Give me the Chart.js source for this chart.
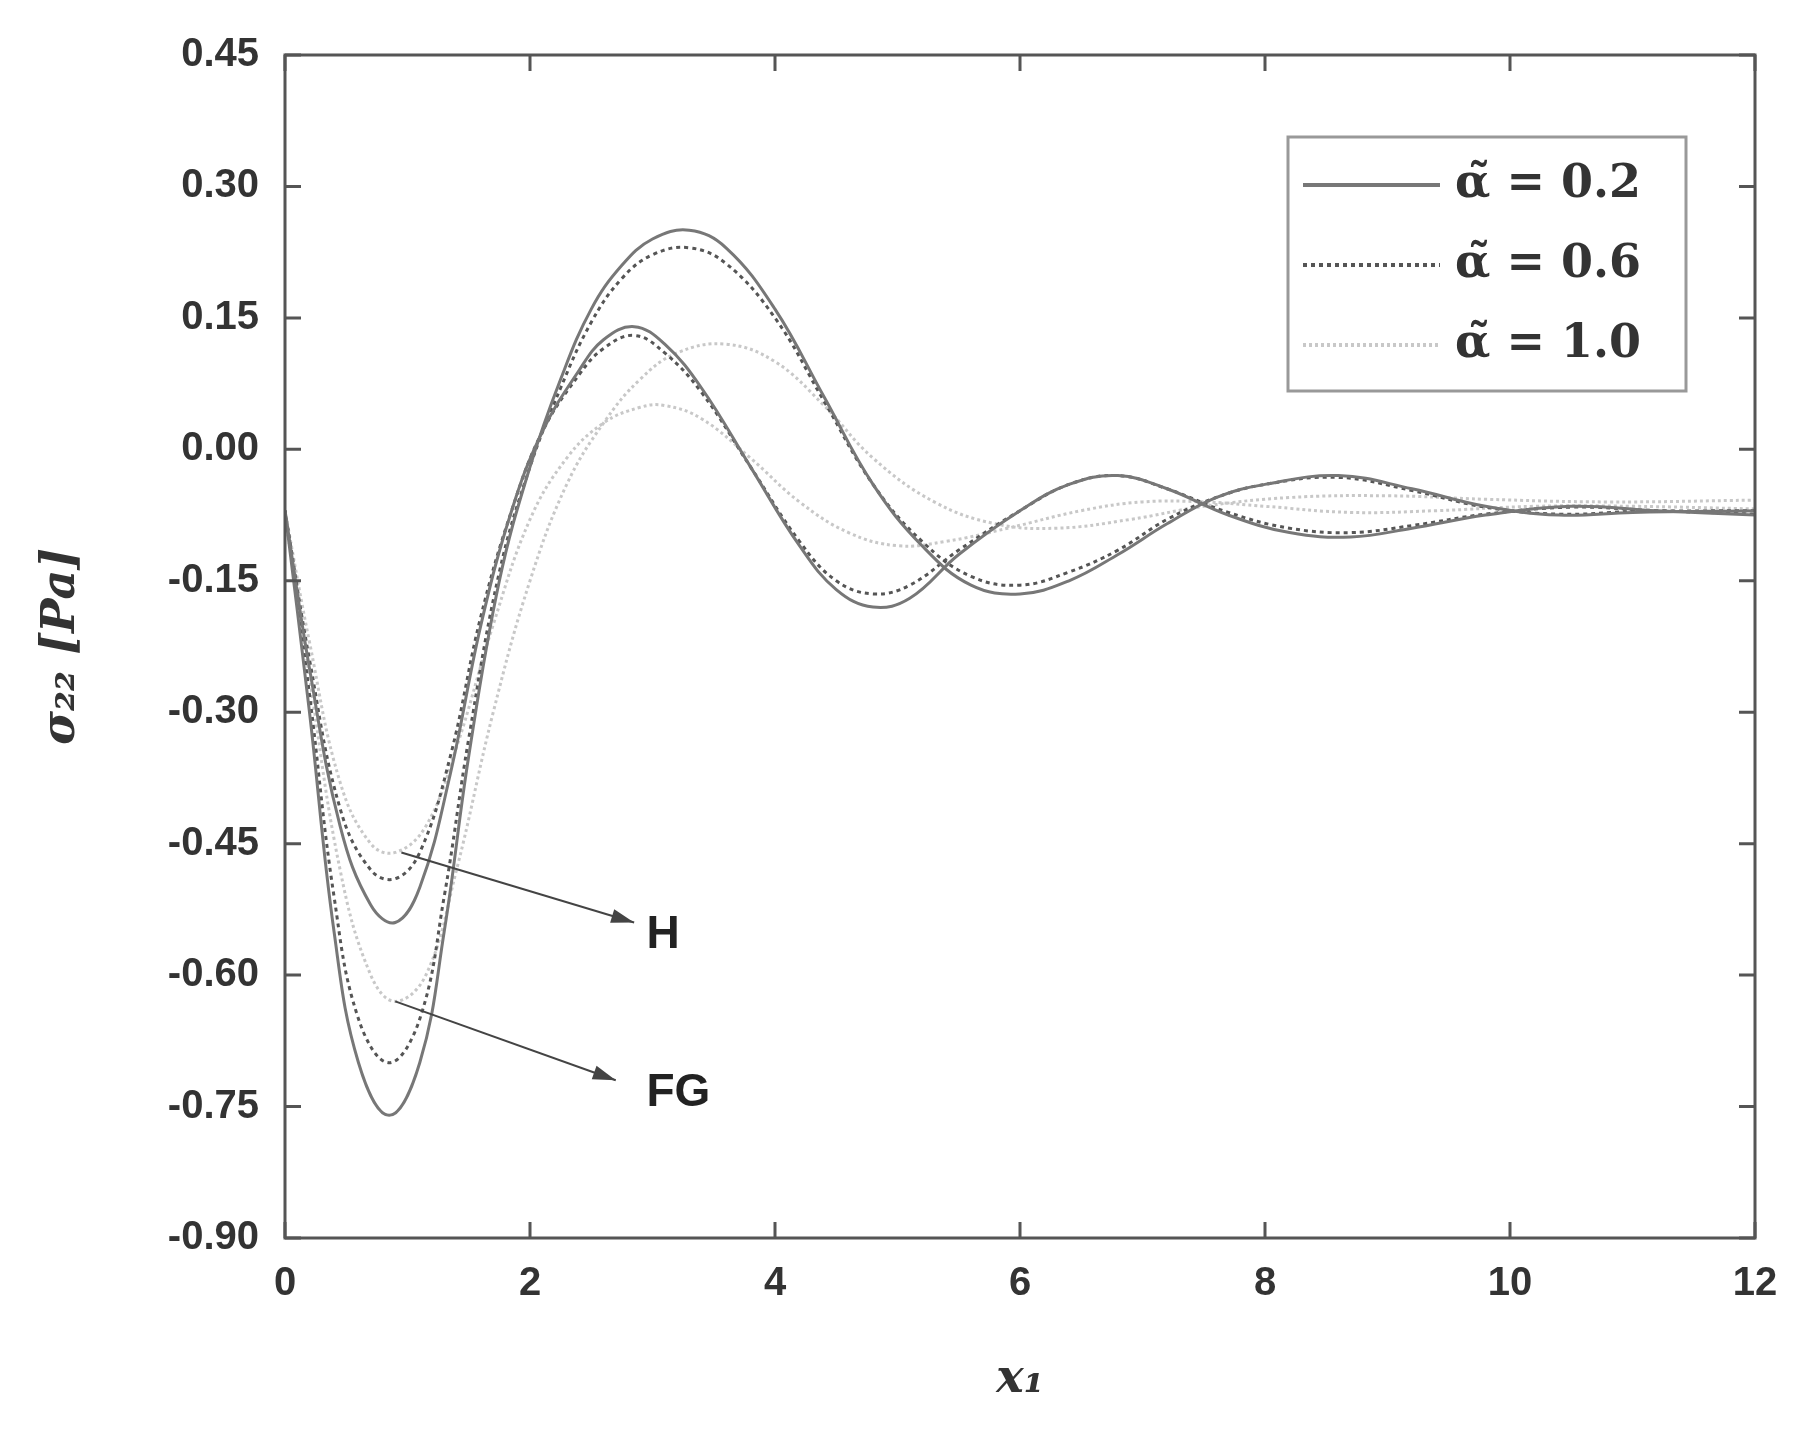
<!DOCTYPE html>
<html><head><meta charset="utf-8">
<script src="https://cdn.jsdelivr.net/npm/chart.js@4/dist/chart.umd.min.js"></script>
<style>html,body{margin:0;background:#fff}#w{width:1804px;height:1429px}</style>
</head><body><div id="w"><canvas id="c"></canvas></div>
<script>
const xTicks=[0,2,4,6,8,10,12];
const yTicks=[-0.90,-0.75,-0.60,-0.45,-0.30,-0.15,0.00,0.15,0.30,0.45];
const seriesNames=['α̃ = 0.2','α̃ = 0.6','α̃ = 1.0'];
const H02=[[0,-0.07],[0.2,-0.25],[0.45,-0.43],[0.7,-0.52],[0.9,-0.54],[1.1,-0.5],[1.35,-0.37],[1.6,-0.2],[1.85,-0.07],[2.1,0.02],[2.4,0.09],[2.6,0.125],[2.85,0.14],[3.1,0.12],[3.4,0.07],[3.8,-0.02],[4.2,-0.11],[4.5,-0.16],[4.8,-0.18],[5.1,-0.17],[5.5,-0.12],[6.0,-0.07],[6.4,-0.04],[6.8,-0.03],[7.2,-0.045],[7.7,-0.075],[8.2,-0.095],[8.7,-0.1],[9.2,-0.09],[9.8,-0.075],[10.5,-0.065],[11.2,-0.07],[12,-0.075]];
const H06=[[0,-0.07],[0.2,-0.24],[0.45,-0.41],[0.7,-0.48],[0.9,-0.49],[1.1,-0.46],[1.35,-0.35],[1.6,-0.19],[1.85,-0.07],[2.1,0.02],[2.4,0.085],[2.6,0.115],[2.85,0.13],[3.1,0.11],[3.4,0.065],[3.8,-0.02],[4.2,-0.105],[4.5,-0.15],[4.8,-0.165],[5.1,-0.155],[5.5,-0.115],[6.0,-0.07],[6.4,-0.04],[6.8,-0.03],[7.2,-0.045],[7.7,-0.072],[8.2,-0.09],[8.7,-0.095],[9.2,-0.087],[9.8,-0.074],[10.5,-0.066],[11.2,-0.07],[12,-0.074]];
const H10=[[0,-0.07],[0.2,-0.22],[0.45,-0.38],[0.7,-0.45],[0.9,-0.46],[1.15,-0.43],[1.4,-0.34],[1.7,-0.2],[2.0,-0.08],[2.3,-0.01],[2.6,0.03],[2.9,0.048],[3.1,0.05],[3.4,0.035],[3.8,-0.01],[4.2,-0.06],[4.6,-0.095],[5.0,-0.11],[5.4,-0.105],[5.9,-0.09],[6.5,-0.07],[7.0,-0.06],[7.5,-0.06],[8.0,-0.065],[8.7,-0.072],[9.4,-0.07],[10.2,-0.065],[11,-0.065],[12,-0.068]];
const FG02=[[0,-0.07],[0.2,-0.3],[0.4,-0.55],[0.6,-0.7],[0.85,-0.76],[1.1,-0.7],[1.3,-0.55],[1.5,-0.35],[1.75,-0.15],[2.0,-0.02],[2.25,0.08],[2.5,0.16],[2.75,0.21],[3.0,0.24],[3.3,0.25],[3.6,0.23],[4.0,0.16],[4.4,0.06],[4.8,-0.04],[5.2,-0.11],[5.6,-0.155],[6.0,-0.165],[6.4,-0.15],[6.8,-0.12],[7.2,-0.085],[7.6,-0.055],[8.0,-0.04],[8.6,-0.03],[9.2,-0.045],[9.8,-0.065],[10.4,-0.075],[11.0,-0.072],[12,-0.07]];
const FG06=[[0,-0.07],[0.2,-0.28],[0.4,-0.51],[0.6,-0.65],[0.85,-0.70],[1.1,-0.65],[1.3,-0.51],[1.5,-0.33],[1.75,-0.14],[2.0,-0.02],[2.25,0.07],[2.5,0.145],[2.75,0.195],[3.0,0.222],[3.3,0.23],[3.6,0.212],[4.0,0.15],[4.4,0.055],[4.8,-0.04],[5.2,-0.105],[5.6,-0.145],[6.0,-0.155],[6.4,-0.14],[6.8,-0.115],[7.2,-0.08],[7.6,-0.055],[8.0,-0.04],[8.6,-0.032],[9.2,-0.047],[9.8,-0.066],[10.4,-0.074],[11.0,-0.071],[12,-0.07]];
const FG10=[[0,-0.07],[0.2,-0.26],[0.45,-0.48],[0.7,-0.6],[0.9,-0.63],[1.15,-0.6],[1.4,-0.48],[1.7,-0.3],[2.0,-0.15],[2.3,-0.04],[2.6,0.03],[2.9,0.08],[3.2,0.11],[3.6,0.12],[4.0,0.1],[4.4,0.05],[4.8,-0.01],[5.3,-0.06],[5.8,-0.085],[6.3,-0.09],[6.9,-0.08],[7.5,-0.065],[8.2,-0.055],[9.0,-0.053],[9.8,-0.057],[10.8,-0.06],[12,-0.058]];
const styles=[{c:'#777',w:3,d:[]},{c:'#555',w:3,d:[4,4]},{c:'#c8c8c8',w:3,d:[3,3]}];
const groups=[[H02,FG02],[H06,FG06],[H10,FG10]];
const datasets=[];
groups.forEach((g,i)=>g.forEach(arr=>datasets.push({data:arr.map(p=>({x:p[0],y:p[1]})),borderColor:styles[i].c,borderWidth:styles[i].w,borderDash:styles[i].d,pointRadius:0,tension:0.4,fill:false})));
const F="'Liberation Sans',Arial,sans-serif";
const deco={id:'deco',afterDraw(ch){
 const c=ch.ctx,x=ch.scales.x,y=ch.scales.y,a=ch.chartArea;
 c.save();c.strokeStyle='#555';c.lineWidth=3;
 xTicks.forEach(v=>{const p=x.getPixelForValue(v);c.beginPath();c.moveTo(p,a.bottom);c.lineTo(p,a.bottom-16);c.moveTo(p,a.top);c.lineTo(p,a.top+16);c.stroke();});
 yTicks.forEach(v=>{const p=y.getPixelForValue(v);c.beginPath();c.moveTo(a.left,p);c.lineTo(a.left+16,p);c.moveTo(a.right,p);c.lineTo(a.right-16,p);c.stroke();});
 c.strokeRect(a.left,a.top,a.right-a.left,a.bottom-a.top);
 c.strokeStyle='#444';c.fillStyle='#444';c.lineWidth=2;
 const arrow=(x1,y1,x2,y2)=>{const X1=x.getPixelForValue(x1),Y1=y.getPixelForValue(y1),X2=x.getPixelForValue(x2),Y2=y.getPixelForValue(y2);
  c.beginPath();c.moveTo(X1,Y1);c.lineTo(X2,Y2);c.stroke();const an=Math.atan2(Y2-Y1,X2-X1);
  c.beginPath();c.moveTo(X2,Y2);c.lineTo(X2-24*Math.cos(an-0.3),Y2-24*Math.sin(an-0.3));c.lineTo(X2-24*Math.cos(an+0.3),Y2-24*Math.sin(an+0.3));c.closePath();c.fill();};
 arrow(0.95,-0.46,2.85,-0.54);arrow(0.9,-0.63,2.7,-0.72);
 c.fillStyle='#222';c.font='bold 46px '+F;c.textBaseline='middle';
 c.fillText('H',x.getPixelForValue(2.95),y.getPixelForValue(-0.555));
 c.fillText('FG',x.getPixelForValue(2.95),y.getPixelForValue(-0.735));
 c.strokeStyle='#999';c.lineWidth=3;c.strokeRect(1288,137,398,254);
 c.font="bold 46px 'DejaVu Serif',serif";c.fillStyle='#333';
 seriesNames.forEach((n,i)=>{const yy=185+i*80;c.strokeStyle=styles[i].c;c.lineWidth=4;c.setLineDash(styles[i].d);c.beginPath();c.moveTo(1303,yy);c.lineTo(1440,yy);c.stroke();c.setLineDash([]);c.fillText(n,1455,yy);});
 c.font="bold italic 46px 'DejaVu Serif',serif";c.textAlign='center';
 c.fillText('x₁',(a.left+a.right)/2,1380);
 c.translate(62,(a.top+a.bottom)/2);c.rotate(-Math.PI/2);c.fillText('σ₂₂ [Pa]',0,0);
 c.restore();}};
new Chart(document.getElementById('c'),{type:'line',data:{datasets},plugins:[deco],
options:{responsive:true,maintainAspectRatio:false,animation:false,layout:{padding:{top:55,right:49}},
plugins:{legend:{display:false},tooltip:{enabled:false}},
scales:{x:{type:'linear',min:0,max:12,afterBuildTicks:s=>{s.ticks=xTicks.map(v=>({value:v}));},afterFit:s=>{s.height=191;},grid:{display:false},border:{display:false},ticks:{padding:14,color:'#333',font:{family:F,size:40,weight:'bold'}}},
y:{min:-0.9,max:0.45,afterBuildTicks:s=>{s.ticks=yTicks.map(v=>({value:v}));},afterFit:s=>{s.width=285;},grid:{display:false},border:{display:false},ticks:{padding:18,color:'#333',callback:v=>v.toFixed(2),font:{family:F,size:40,weight:'bold'}}}}}});
</script></body></html>
